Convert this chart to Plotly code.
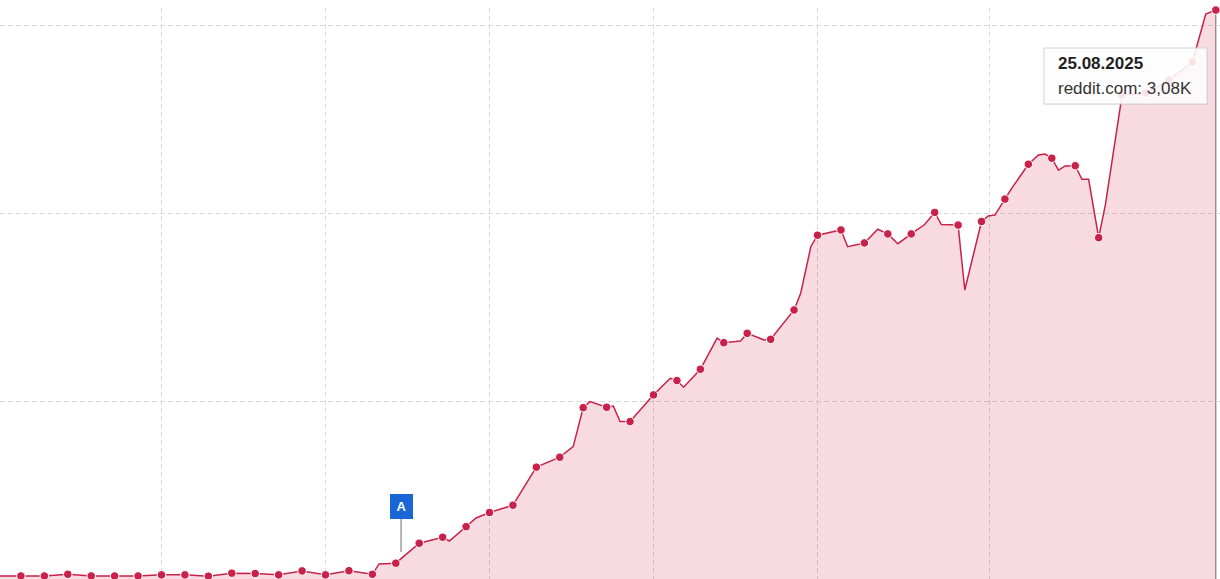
import pandas as pd
import plotly.graph_objects as go

# weekly points (mondays) -> these get the dots
weeks = pd.date_range("2024-08-26", "2025-08-25", freq="7D")
week_values = [74, 74, 74, 83, 74, 74, 74, 80, 80, 73,
               89, 87, 80, 101, 80, 102, 83, 142, 248, 280,
               336, 411, 450, 652, 705, 968, 970, 894, 1036, 1112,
               1172, 1313, 1363, 1331, 1487, 1884, 1912, 1843, 1891, 1891,
               2005, 1938, 1957, 2076, 2261, 2293, 2253, 1871, 2629, 2639,
               2708, 2804, 3080]

# in-between points where the line bends but no dot is drawn
extra_days = ["2024-12-18", "2025-01-08", "2025-01-16", "2025-02-14", "2025-02-19",
              "2025-02-26", "2025-02-28", "2025-03-06", "2025-03-15", "2025-03-19",
              "2025-03-29", "2025-04-05", "2025-04-12", "2025-04-23", "2025-04-26",
              "2025-05-07", "2025-05-16", "2025-05-22", "2025-05-30", "2025-06-04",
              "2025-06-11", "2025-06-18", "2025-06-20", "2025-06-25", "2025-07-03",
              "2025-07-05", "2025-07-09", "2025-07-11", "2025-07-16", "2025-07-18",
              "2025-07-23", "2025-08-22"]
extra_values = [138, 260, 382, 761, 1000,
                977, 894, 956, 1124, 1077,
                1337, 1322, 1328, 1577, 1823,
                1823, 1916, 1839, 1941, 1941,
                1593, 1986, 1991, 2133, 2310,
                2315, 2230, 2252, 2181, 2181,
                2045, 3059]

grid_dates = ["2024-10-14", "2024-12-02", "2025-01-20", "2025-03-10", "2025-04-28", "2025-06-18 12:00"]
grid_values = [1000, 2000, 3000]

flag_date = "2024-12-24 14:00"
flag_value = 202
flag_label = "A"

tip_date = "25.08.2025"
tip_series = "reddit.com"
tip_value = "3,08K"

RED = "#c8224a"
W, H, TOP = 1220, 579, 8

df = pd.concat([
    pd.DataFrame({"date": weeks, "value": week_values}),
    pd.DataFrame({"date": pd.to_datetime(extra_days), "value": extra_values}),
]).sort_values("date")

fig = go.Figure()

fig.add_trace(go.Scatter(x=df["date"], y=df["value"], mode="lines",
                         line=dict(color=RED, width=1.5),
                         fill="tozeroy", fillcolor="rgba(206, 40, 78, 0.17)",
                         hoverinfo="skip"))

fig.add_trace(go.Scatter(x=weeks, y=week_values, mode="markers",
                         marker=dict(color=RED, size=8.5, line=dict(color="white", width=1)),
                         cliponaxis=False, hoverinfo="skip"))

# hover line on the last point
fig.add_shape(type="line", x0=weeks[-1], x1=weeks[-1], y0=0, y1=week_values[-1],
              line=dict(color="#6b6b6b", width=1), layer="below")


def px(x):
    return x / W


def py(y):
    return (H - y) / (H - TOP)


# tooltip box
fig.add_shape(type="rect", xref="paper", yref="paper",
              x0=px(1045), x1=px(1208), y0=py(105), y1=py(49),
              fillcolor="rgba(0,0,0,0.06)", line_width=0)
fig.add_shape(type="rect", xref="paper", yref="paper",
              x0=px(1044), x1=px(1207), y0=py(104), y1=py(48),
              fillcolor="rgba(255,255,255,0.88)", line=dict(color="#d2d2d2", width=1))
fig.add_annotation(xref="paper", yref="paper", x=px(1056), y=py(64),
                   xanchor="left", yanchor="middle", showarrow=False,
                   text="<b>" + tip_date + "</b>",
                   font=dict(family="Liberation Sans, Arial", size=17, color="#1f1f1f"))
fig.add_annotation(xref="paper", yref="paper", x=px(1056), y=py(88),
                   xanchor="left", yanchor="middle", showarrow=False,
                   text=tip_series + ": " + tip_value,
                   font=dict(family="Liberation Sans, Arial", size=17, color="#333333"))

# event flag
fig.add_annotation(x=flag_date, y=flag_value, text="<b>" + flag_label + "</b>",
                   showarrow=True, arrowhead=0, arrowwidth=2, arrowcolor="#b4b4b4",
                   ax=0, ay=-45, width=19, height=21, borderpad=1, borderwidth=1,
                   bgcolor="#1a66d6", bordercolor="#1a66d6",
                   font=dict(family="Liberation Sans, Arial", size=13, color="white"))

fig.update_xaxes(range=["2024-08-26 18:00", "2025-08-26 06:00"],
                 tickvals=grid_dates, showticklabels=False, ticks="",
                 showgrid=True, gridcolor="#dadada", gridwidth=1, griddash="5px,3px",
                 zeroline=False, showline=False)
fig.update_yaxes(range=[58, 3091], tickvals=grid_values, showticklabels=False, ticks="",
                 showgrid=True, gridcolor="#dadada", gridwidth=1, griddash="5px,3px",
                 zeroline=False, showline=False)

fig.update_layout(width=W, height=H, margin=dict(l=0, r=0, t=TOP, b=0),
                  plot_bgcolor="white", paper_bgcolor="white", showlegend=False)

fig.write_html("out.html", config={"displayModeBar": False},
               post_script="document.body.style.margin='0';")
